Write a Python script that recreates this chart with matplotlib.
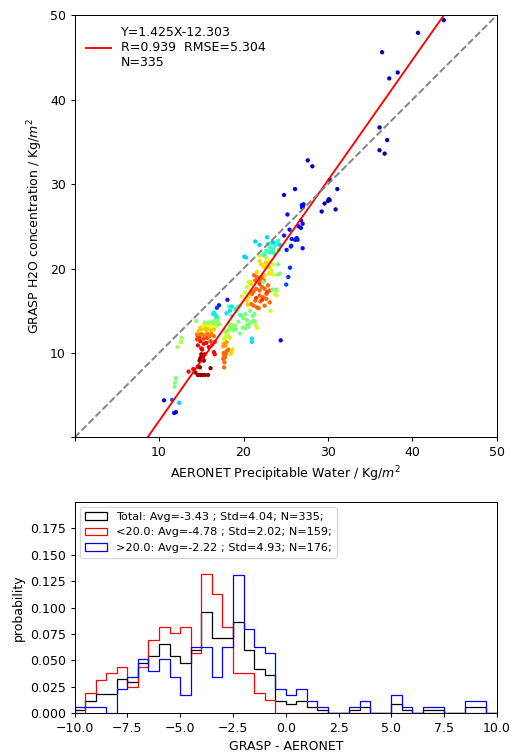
import numpy as np
import matplotlib
matplotlib.use("Agg")
import matplotlib.pyplot as plt

# scatter: AERONET PW (x), GRASP H2O (y), colour value on jet (c)
aeronet = [
    # sparse high values
    36.4, 37.25, 38.25, 40.65, 43.7, 36.1, 37.0, 36.1, 36.7, 27.6, 28.15, 31.1, 30.1, 30.2, 29.6, 30.0, 30.9, 29.25, 30.2,
    26.1, 24.8,
    26.9, 27.0, 27.1, 26.95, 25.2, 26.8, 27.0, 25.45, 26.5, 26.8, 26.3, 26.4, 26.1, 25.7, 24.8, 25.65, 25.6, 25.1, 27.0,
    25.5, 25.3, 25.05, 24.4, 18.1, 17.1, 16.85, 10.6, 11.8, 12.0, 11.55, 12.4,
    12.0, 11.9, 11.85, 12.7, 12.6, 12.2,
    # lower-left cluster
    14.6, 14.9, 15.1, 15.4, 15.8, 14.3, 14.6, 14.85, 16.1, 14.8, 15.0, 15.3, 15.2, 14.9, 15.0, 15.4,
    13.5, 14.05, 15.1, 15.0, 16.5, 16.6, 14.6, 15.3, 15.6, 15.9, 14.9,
    14.5, 14.8, 15.3, 15.7, 16.1, 16.3, 14.6, 16.6,
    14.5, 14.8, 15.1, 15.4, 15.7, 16.0, 16.2, 16.5,
    14.7, 15.0, 15.3, 15.6, 15.9, 16.2, 16.5, 14.9, 15.5,
    15.2, 15.8, 16.1, 16.4, 16.8, 15.5,
    15.4, 15.9, 16.3, 16.6, 16.9, 17.1, 16.7, 17.0, 14.4,
    16.4, 16.7, 16.8, 16.5,
    # orange cluster near 18
    17.7, 17.75, 17.6, 17.7, 17.9, 18.0, 18.2, 17.8, 17.65,
    18.6, 18.7, 18.5,
    17.7, 17.85, 18.0, 17.6,
    17.7, 17.9, 18.2, 18.0, 18.4,
    17.8, 18.2, 18.6, 18.4, 18.8, 18.6, 18.3, 19.0,
    # green cluster near 20
    19.6, 19.9, 20.2, 20.4, 20.6, 20.7, 21.0, 21.2, 21.35, 20.4, 20.0, 19.8, 20.2, 21.1, 21.3, 20.8, 19.4, 19.1,
    19.6, 19.2, 19.0, 19.3, 19.6, 18.6, 18.3,
    18.4, 18.6, 18.0, 21.0, 21.0,
    21.4, 21.6,
    # orange cluster near 22
    21.0, 21.2, 21.5, 21.9, 22.2, 22.5, 22.7, 21.9, 22.3, 21.4, 20.9, 21.6, 21.2, 22.0, 22.15, 22.4, 21.4, 21.6, 21.25,
    22.9, 23.1, 22.7, 23.1, 22.5, 21.8, 22.0,
    21.5, 22.2, 22.8, 21.9,
    20.6, 20.4, 20.9, 20.8, 22.1, 22.4, 22.65, 22.9, 23.1, 23.05, 22.5, 21.9, 21.6, 20.5, 23.3,
    20.6, 20.4, 20.2, 19.8, 21.9, 22.35, 22.7, 23.1, 23.5, 23.2, 23.5, 23.9, 23.7, 23.9, 23.2,
    24.1, 24.3, 24.1, 23.45, 23.9, 22.3,
    # teal cluster near 23
    22.9, 23.1, 23.3, 23.5, 23.7, 23.9, 24.1, 23.25, 23.5, 23.7, 23.1, 22.7, 22.5, 22.35, 24.2,
    21.4, 21.9, 22.8, 23.5, 20.1, 20.3, 24.3,
]
grasp = [
    45.6, 42.5, 43.2, 47.9, 49.4, 36.7, 35.2, 34.0, 33.6, 32.8, 32.1, 29.4, 28.2, 28.1, 27.7, 28.0, 27.0, 26.75, 30.5,
    29.4, 28.7,
    27.5, 27.3, 27.6, 27.2, 26.4, 25.7, 25.3, 24.6, 25.0, 24.8, 23.6, 23.4, 23.4, 23.5, 23.9, 22.7, 22.6, 22.2, 22.4,
    20.1, 19.0, 18.1, 11.5, 16.3, 15.65, 15.35, 4.4, 2.9, 3.0, 4.45, 4.1,
    7.0, 6.5, 6.0, 11.8, 11.3, 10.7,
    7.4, 7.4, 7.4, 7.4, 7.4, 7.7, 8.4, 8.3, 8.2, 9.1, 9.3, 9.1, 9.5, 9.4, 9.85, 9.85,
    7.8, 8.1, 10.4, 10.55, 10.1, 9.85, 10.9, 11.1, 11.2, 10.7, 11.4,
    11.6, 11.8, 11.7, 11.8, 11.4, 11.0, 12.0, 11.3,
    12.2, 12.3, 12.2, 12.1, 12.3, 12.0, 12.3, 12.0,
    12.6, 12.8, 12.9, 12.7, 12.9, 12.7, 12.8, 13.0, 13.1,
    13.2, 13.3, 13.1, 13.4, 13.2, 13.5,
    13.6, 13.6, 13.7, 13.5, 13.8, 13.4, 14.0, 14.1, 13.8,
    14.6, 14.5, 14.3, 14.8,
    8.3, 8.9, 9.3, 9.7, 9.85, 10.2, 10.4, 9.5, 10.0,
    10.1, 10.4, 9.9,
    11.1, 10.9, 11.3, 10.8,
    11.7, 11.9, 12.0, 12.3, 11.8,
    12.6, 12.7, 12.9, 13.1, 12.7, 13.3, 13.5, 13.2,
    12.3, 13.0, 12.9, 13.3, 13.1, 13.5, 13.7, 13.8, 13.7, 13.9, 14.1, 14.4, 14.6, 14.4, 14.6, 15.0, 13.7, 12.8,
    14.5, 15.0, 15.2, 15.4, 15.6, 14.4, 15.5,
    15.0, 15.5, 14.7, 11.7, 11.3,
    13.3, 13.0,
    17.0, 17.3, 17.6, 17.4, 17.8, 17.6, 17.0, 16.8, 16.6, 16.2, 15.8, 15.4, 15.6, 18.6, 19.0, 18.6, 18.6, 19.0, 19.2,
    18.0, 17.4, 16.4, 16.0, 15.6, 15.3, 16.1,
    16.5, 16.3, 17.2, 18.2,
    16.7, 16.2, 18.2, 18.4, 20.5, 20.2, 20.7, 20.5, 20.1, 19.4, 19.2, 20.9, 19.6, 15.7, 19.7,
    18.4, 17.8, 17.2, 16.7, 21.5, 21.7, 21.3, 20.9, 20.5, 19.6, 19.3, 17.4, 17.0, 16.8, 15.0,
    20.5, 19.4, 19.3, 17.5, 17.5, 18.4,
    22.9, 22.5, 22.1, 22.3, 22.7, 23.0, 23.3, 23.0, 21.9, 21.7, 21.9, 22.1, 21.7, 21.6, 22.2,
    23.2, 22.8, 23.7, 23.1, 21.4, 21.3, 22.8,
]
colour = [
    0.05, 0.05, 0.05, 0.05, 0.05, 0.05, 0.05, 0.05, 0.05, 0.05, 0.05, 0.05, 0.05, 0.05, 0.05, 0.05, 0.05, 0.05, 0.08,
    0.1, 0.1,
    0.13, 0.13, 0.13, 0.13, 0.13, 0.14, 0.14, 0.14, 0.14, 0.14, 0.14, 0.15, 0.15, 0.15, 0.15, 0.16, 0.16, 0.16, 0.14,
    0.17, 0.18, 0.2, 0.12, 0.15, 0.15, 0.18, 0.12, 0.12, 0.12, 0.22, 0.33,
    0.5, 0.5, 0.5, 0.55, 0.55, 0.55,
    0.98, 0.98, 0.98, 0.98, 0.98, 0.98, 0.98, 0.98, 0.98, 0.98, 0.98, 0.98, 0.98, 0.98, 0.96, 0.96,
    0.9, 0.9, 0.9, 0.9, 0.9, 0.9, 0.9, 0.9, 0.9, 0.9, 0.9,
    0.84, 0.84, 0.84, 0.84, 0.84, 0.84, 0.84, 0.84,
    0.78, 0.78, 0.78, 0.78, 0.78, 0.78, 0.78, 0.78,
    0.7, 0.7, 0.7, 0.7, 0.7, 0.7, 0.7, 0.7, 0.7,
    0.62, 0.62, 0.62, 0.62, 0.62, 0.62,
    0.52, 0.52, 0.52, 0.52, 0.52, 0.52, 0.52, 0.52, 0.52,
    0.36, 0.36, 0.36, 0.36,
    0.8, 0.8, 0.8, 0.8, 0.8, 0.8, 0.8, 0.8, 0.8,
    0.68, 0.68, 0.68,
    0.74, 0.74, 0.74, 0.74,
    0.6, 0.6, 0.6, 0.6, 0.6,
    0.52, 0.52, 0.52, 0.52, 0.52, 0.52, 0.52, 0.52,
    0.5, 0.5, 0.5, 0.5, 0.5, 0.5, 0.5, 0.5, 0.5, 0.5, 0.5, 0.5, 0.5, 0.5, 0.5, 0.5, 0.5, 0.5,
    0.44, 0.44, 0.44, 0.44, 0.44, 0.44, 0.44,
    0.35, 0.35, 0.35, 0.35, 0.35,
    0.62, 0.6,
    0.8, 0.8, 0.8, 0.8, 0.8, 0.8, 0.8, 0.8, 0.8, 0.8, 0.8, 0.8, 0.8, 0.8, 0.8, 0.8, 0.8, 0.8, 0.8,
    0.8, 0.8, 0.8, 0.8, 0.8, 0.8, 0.8,
    0.85, 0.85, 0.85, 0.85,
    0.68, 0.68, 0.68, 0.68, 0.68, 0.68, 0.68, 0.68, 0.68, 0.68, 0.68, 0.68, 0.68, 0.68, 0.68,
    0.6, 0.6, 0.6, 0.6, 0.6, 0.6, 0.6, 0.6, 0.6, 0.6, 0.6, 0.6, 0.6, 0.6, 0.6,
    0.5, 0.5, 0.5, 0.5, 0.5, 0.5,
    0.42, 0.42, 0.42, 0.42, 0.42, 0.42, 0.42, 0.42, 0.42, 0.42, 0.42, 0.42, 0.42, 0.42, 0.42,
    0.33, 0.33, 0.33, 0.33, 0.33, 0.33, 0.33,
]

slope, intercept = 1.425, -12.303
fit_label = "Y=1.425X-12.303\nR=0.939  RMSE=5.304\nN=335"

# histogram of GRASP - AERONET, 0.5 wide bins from -10 to 10 (counts)
bin_edges = np.arange(-10, 10.01, 0.5)
low_counts = [0, 3, 5, 6, 7, 4, 7, 11, 13, 12, 13, 9, 21, 18, 13, 6, 6, 3, 2, 0,
              0, 0, 0, 0, 0, 0, 0, 0, 0, 0, 0, 0, 0, 0, 0, 0, 0, 0, 0, 0]
high_counts = [1, 1, 1, 0, 4, 6, 9, 7, 9, 6, 3, 11, 11, 6, 11, 23, 14, 11, 10, 4,
               3, 4, 2, 1, 0, 0, 1, 2, 0, 0, 3, 1, 0, 1, 1, 0, 0, 2, 2, 0]
n_low, n_high, n_total = 159, 176, 335
label_total = "Total: Avg=-3.43 ; Std=4.04; N=335;"
label_low = "<20.0: Avg=-4.78 ; Std=2.02; N=159;"
label_high = ">20.0: Avg=-2.22 ; Std=4.93; N=176;"

fig = plt.figure(figsize=(511 / 90, 753 / 90), dpi=90)

ax1 = fig.add_axes([0.1458, 0.419, 0.8268, 0.561])
ax1.scatter(aeronet, grasp, c=colour, cmap="jet", vmin=0, vmax=1, s=12, linewidths=0)
xx = np.array([0, 50])
ax1.plot(xx, slope * xx + intercept, color="red", lw=1.5, label=fit_label)
ax1.plot(xx, xx, "--", color="gray", lw=1.5)
ax1.set_xlim(0, 50)
ax1.set_ylim(0, 50)
ticks = [0, 10, 20, 30, 40, 50]
ax1.set_xticks(ticks, ["", "10", "20", "30", "40", "50"])
ax1.set_yticks(ticks, ["", "10", "20", "30", "40", "50"])
ax1.set_xlabel("AERONET Precipitable Water / Kg/$m^2$")
ax1.set_ylabel("GRASP H2O concentration / Kg/$m^2$")
ax1.legend(loc="upper left", frameon=False)

ax2 = fig.add_axes([0.1458, 0.0527, 0.8268, 0.281])
centers = bin_edges[:-1] + 0.25
low = np.array(low_counts)
high = np.array(high_counts)
ax2.hist(centers, bins=bin_edges, weights=(low + high) / n_total, histtype="step",
         color="black", label=label_total)
ax2.hist(centers, bins=bin_edges, weights=low / n_low, histtype="step",
         color="red", label=label_low)
ax2.hist(centers, bins=bin_edges, weights=high / n_high, histtype="step",
         color="blue", label=label_high)
ax2.set_xlim(-10, 10)
ax2.set_ylim(0, 0.2)
ax2.set_xticks(np.arange(-10, 10.1, 2.5))
ax2.set_yticks(np.arange(0, 0.176, 0.025))
ax2.set_xlabel("GRASP - AERONET")
ax2.set_ylabel("probability")
ax2.legend(loc="upper left", fontsize=9)

fig.savefig("out.png", dpi=90)
